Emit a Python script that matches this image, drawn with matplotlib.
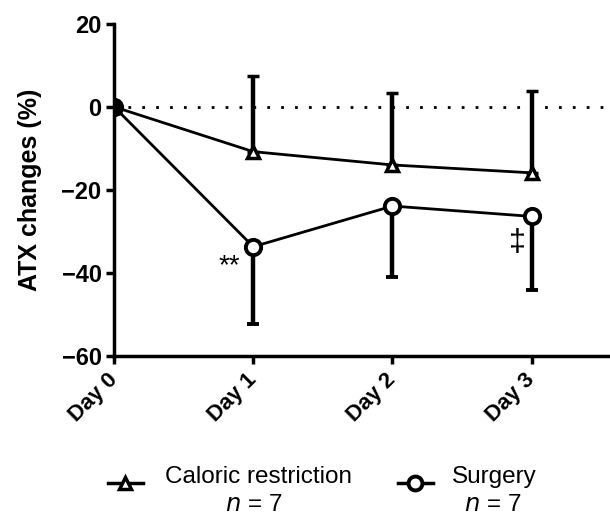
import numpy as np
from matplotlib import pyplot as plt
from matplotlib.lines import Line2D

plt.rcParams['font.family'] = ['Liberation Sans', 'DejaVu Sans']

days = ['Day 0', 'Day 1', 'Day 2', 'Day 3']
cr_mean = [0, -10.8, -14.0, -15.9]
cr_err_up = [0, 18.3, 17.3, 19.8]
surg_mean = [0, -33.7, -23.9, -26.4]
surg_err_down = [0, 18.6, 17.1, 17.7]

x = np.arange(len(days))

fig = plt.figure(figsize=(6.1, 5.18), dpi=100)
ax = fig.add_axes([0.187, 0.313, 0.81, 0.641])

ax.axhline(0, color='black', lw=2, ls=(0, (1, 4)), zorder=1)

cr_style = dict(color='black', lw=2, marker='^', ms=9, mfc='white', mec='black', mew=2.5)
surg_style = dict(color='black', lw=2, marker='o', ms=11, mfc='white', mec='black', mew=2.8)

ax.errorbar(x, cr_mean, yerr=[np.zeros(4), cr_err_up],
            elinewidth=3.2, capsize=4.5, capthick=3, zorder=3, **cr_style)
ax.errorbar(x, surg_mean, yerr=[surg_err_down, np.zeros(4)],
            elinewidth=3.2, capsize=4.5, capthick=3, zorder=3, **surg_style)
# baseline point
ax.plot(0, 0, 'o', color='black', ms=12, zorder=4)

ax.text(0.83, -38.5, '**', fontsize=20, ha='center', va='center')
ax.text(2.9, -32.8, '‡', fontsize=22, ha='center', va='center')

ax.set_xlim(0, 3.55)
ax.set_ylim(-60, 20)
ax.set_yticks([-60, -40, -20, 0, 20])
ax.set_yticklabels(['\u221260', '\u221240', '\u221220', '0', '20'])
ax.set_xticks(x)
ax.set_xticklabels(days, rotation=45, ha='right', va='center', rotation_mode='anchor')
for lab in ax.get_yticklabels():
    lab.set_fontweight('bold')
    lab.set_fontsize(17)
for lab in ax.get_xticklabels():
    lab.set_fontweight('bold')
    lab.set_fontsize(16)
ax.set_ylabel('ATX changes (%)', fontsize=18, fontweight='bold', labelpad=14)

for s in ['top', 'right']:
    ax.spines[s].set_visible(False)
for s in ['left', 'bottom']:
    ax.spines[s].set_linewidth(2.5)
ax.tick_params(width=2.5, length=6, direction='out', pad=3)
ax.tick_params(axis='x', pad=9)

# legend drawn by hand (handle sits low, labels two lines centred)
tf = fig.transFigure
leg_y = 0.068
for (x0, x1), style in [((0.177, 0.234), cr_style), ((0.652, 0.710), surg_style)]:
    fig.add_artist(Line2D([x0, x1], [leg_y, leg_y], transform=tf, color='black', lw=2.5))
    fig.add_artist(Line2D([(x0 + x1) / 2], [leg_y], transform=tf, ls='none',
                          marker=style['marker'], ms=style['ms'] - 1, mfc='white',
                          mec='black', mew=style['mew']))
fig.text(0.423, 0.080, 'Caloric restriction', fontsize=17.5, ha='center', va='center')
fig.text(0.416, 0.026, '$n$ = 7', fontsize=17.5, ha='center', va='center')
fig.text(0.811, 0.080, 'Surgery', fontsize=17.5, ha='center', va='center')
fig.text(0.807, 0.026, '$n$ = 7', fontsize=17.5, ha='center', va='center')

fig.savefig('out.png', dpi=100)
